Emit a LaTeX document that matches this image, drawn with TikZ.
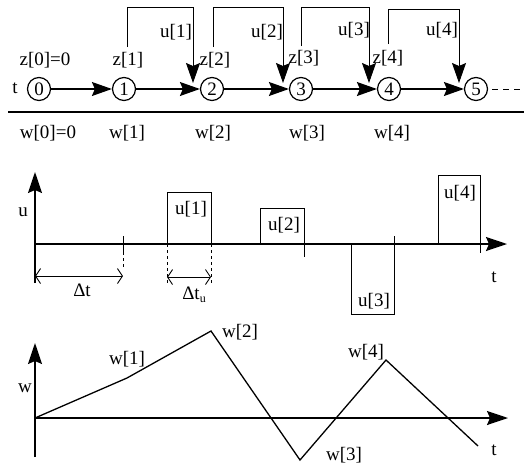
\documentclass[tikz,border=0pt]{standalone}
\usepackage{fontspec}
\setmainfont{Liberation Serif}
\usetikzlibrary{arrows.meta}
\begin{document}
\begin{tikzpicture}[x=1pt,y=-1pt,
  state/.style={circle,draw,line width=1.2pt,minimum size=23pt,inner sep=0pt,font=\fontsize{19}{22}\selectfont},
  lbl/.style={inner sep=0pt,font=\fontsize{19}{22}\selectfont},
  flow/.style={line width=1.3pt,-{Stealth[length=20pt,width=14pt,inset=3pt]}},
  fback/.style={line width=0.9pt,-{Stealth[length=20pt,width=14pt,inset=3pt]}},
  axis/.style={line width=1.6pt,-{Stealth[length=21pt,width=14pt,inset=3pt]}},
  thin/.style={line width=0.9pt},
  dim/.style={line width=0.9pt,{Straight Barb[length=5pt,width=15pt]}-{Straight Barb[length=5pt,width=15pt]}},
  curve/.style={line width=1.3pt,line join=miter}
]
\useasboundingbox (0,0) rectangle (524,466);

% ---------- top: state chain ----------
\node[lbl] (tl) at (15,88) {t};
\node[state] (c0) at (39,89) {0};
\node[state] (c1) at (124,89) {1};
\node[state] (c2) at (212,89) {2};
\node[state] (c3) at (301,89) {3};
\node[state] (c4) at (389,89) {4};
\node[state] (c5) at (476,89) {5};
\draw[flow] (c0) -- (c1);
\draw[flow] (c1) -- (c2);
\draw[flow] (c2) -- (c3);
\draw[flow] (c3) -- (c4);
\draw[flow] (c4) -- (c5);
\coordinate (dend) at (524,89);
\draw[thin,dash pattern=on 6pt off 5pt] (c5.east) ++(4,0) -- (dend);

\node[lbl] (z0) at (45,60) {z[0]=0};
\node[lbl] (z1) at (128,60) {z[1]};
\node[lbl] (z2) at (215,60) {z[2]};
\node[lbl] (z3) at (304,58) {z[3]};
\node[lbl] (z4) at (388,58) {z[4]};

\coordinate (s1) at (127,47); \coordinate (e1) at (193,83);
\coordinate (s2) at (213,47); \coordinate (e2) at (283,83);
\coordinate (s3) at (301,46); \coordinate (e3) at (369,83);
\coordinate (s4) at (388,44); \coordinate (e4) at (459,83);
\draw[fback] (s1) -- ++(0,-40) -| (e1);
\draw[fback] (s2) -- ++(0,-40) -| (e2);
\draw[fback] (s3) -- ++(0,-39) -| (e3);
\draw[fback] (s4) -- ++(0,-35) -| (e4);
\node[lbl] (u1l) at (176,32) {u[1]};
\node[lbl] (u2l) at (267,32) {u[2]};
\node[lbl] (u3l) at (354,30) {u[3]};
\node[lbl] (u4l) at (442,30) {u[4]};

\coordinate (sepa) at (8,112); \coordinate (sepb) at (524,112);
\draw[line width=1.3pt] (sepa) -- (sepb);
\node[lbl] (w0b) at (48,133) {w[0]=0};
\node[lbl] (w1b) at (127,133) {w[1]};
\node[lbl] (w2b) at (213,133) {w[2]};
\node[lbl] (w3b) at (307,133) {w[3]};
\node[lbl] (w4b) at (392,133) {w[4]};

% ---------- middle: u(t) ----------
\coordinate (uo) at (35,244);
\coordinate (ub) at (35,283);
\coordinate (ut) at (35,172);
\coordinate (ur) at (507,244);
\draw[axis] (ub) -- (ut);
\draw[axis] (uo) -- (ur);
\node[lbl] (ulab) at (23,212) {u};
\node[lbl] (utl) at (494,277) {t};

\draw[thin] (123,236) -- (123,252);
\draw[thin,dashed] (123,252) -- (123,267);
\draw[dim] (35,276) -- (123,276);
\node[lbl] (dt) at (82,290) {Δt};

\draw[thin] (167,244) |- (211,192) -- (211,244);
\draw[thin,dashed] (167,244) -- (167,283);
\draw[thin,dashed] (211,244) -- (211,283);
\draw[dim] (167,277) -- (211,277);
\node[lbl] (dtu) at (194,295) {Δt{\fontsize{12}{13}\selectfont\raisebox{-3pt}{u}}};
\node[lbl] (bu1) at (191,209) {u[1]};

\draw[thin] (260,244) |- (304,208) -- (304,257);
\node[lbl] (bu2) at (284,225) {u[2]};

\draw[thin] (351,244) |- (394,314) -- (394,236);
\node[lbl] (bu3) at (374,301) {u[3]};

\draw[thin] (438,244) |- (480,175) -- (480,253);
\node[lbl] (bu4) at (460,193) {u[4]};

% ---------- bottom: w(t) ----------
\coordinate (wb) at (35,457);
\coordinate (wt) at (35,343);
\coordinate (wo) at (35,418);
\coordinate (wr) at (508,418);
\draw[axis] (wb) -- (wt);
\draw[axis] (wo) -- (wr);
\node[lbl] (wlab) at (25,388) {w};
\node[lbl] (wtl) at (494,450) {t};

\coordinate (p1) at (127,378);
\coordinate (p2) at (211,331);
\coordinate (p3) at (300,460);
\coordinate (p4) at (386,360);
\coordinate (p5) at (478,446);
\draw[curve] (wo) -- (p1) -- (p2) -- (p3) -- (p4) -- (p5);
\node[lbl] (wl1) at (127,359) {w[1]};
\node[lbl] (wl2) at (240,332) {w[2]};
\node[lbl] (wl3) at (344,455) {w[3]};
\node[lbl] (wl4) at (366,352) {w[4]};
\end{tikzpicture}
\end{document}
